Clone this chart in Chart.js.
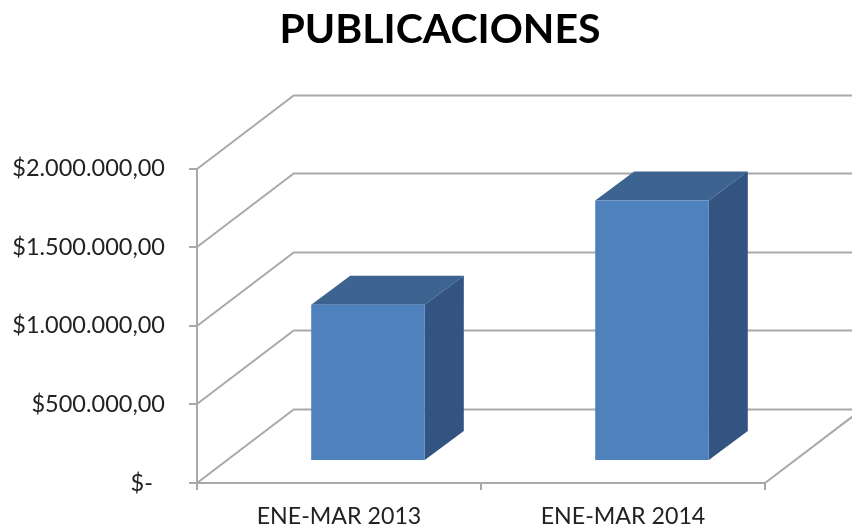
<!DOCTYPE html>
<html>
<head>
<meta charset="utf-8">
<style>html,body{margin:0;padding:0;background:#fff}#w{width:852px;height:528px}</style>
<script src="https://cdn.jsdelivr.net/npm/chart.js@4"></script>
</head>
<body>
<div id="w"><canvas id="c"></canvas></div>
<script>
const chartTitle = 'PUBLICACIONES';
const categories = ['ENE-MAR 2013', 'ENE-MAR 2014'];
const seriesValues = [995000, 1658000];
const yTickValues = [0, 500000, 1000000, 1500000, 2000000];
const yTickLabels = ['$-\u00a0\u00a0', '$500.000,00', '$1.000.000,00', '$1.500.000,00', '$2.000.000,00'];

const GRID = '#a9a9a9', FRONT = '#4f81bd', TOP = '#3d6491', SIDE = '#335380', TEXT = '#222222';
const WALL = {dx: 96.7, dy: -73.5};
const BAR_OFFSET = {dx: 29, dy: -22};
const BAR_DEPTH = {dx: 39, dy: -29};

const threeD = {
  id: 'threeD',
  afterLayout(chart) {
    chart.titleBlock.left = 28;
  },
  beforeDatasetsDraw(chart) {
    const {ctx, chartArea: a, scales: {y}} = chart;
    ctx.save();
    ctx.strokeStyle = GRID;
    ctx.lineWidth = 2;
    yTickValues.forEach(v => {
      const p = Math.round(y.getPixelForValue(v));
      ctx.beginPath();
      ctx.moveTo(a.left, p);
      ctx.lineTo(a.left + WALL.dx, p + WALL.dy);
      ctx.lineTo(chart.width + 2, p + WALL.dy);
      ctx.stroke();
    });
    const b = Math.round(y.getPixelForValue(0));
    ctx.beginPath();
    ctx.moveTo(a.right, b);
    ctx.lineTo(a.right + WALL.dx, b + WALL.dy);
    ctx.stroke();
    ctx.restore();

    ctx.save();
    ctx.translate(BAR_OFFSET.dx, BAR_OFFSET.dy);
    chart.getDatasetMeta(0).data.forEach(el => {
      const p = el.getProps(['x', 'y', 'base', 'width'], true);
      const l = p.x - p.width / 2, r = p.x + p.width / 2;
      ctx.fillStyle = TOP;
      ctx.beginPath();
      ctx.moveTo(l, p.y);
      ctx.lineTo(l + BAR_DEPTH.dx, p.y + BAR_DEPTH.dy);
      ctx.lineTo(r + BAR_DEPTH.dx, p.y + BAR_DEPTH.dy);
      ctx.lineTo(r, p.y);
      ctx.closePath();
      ctx.fill();
      ctx.fillStyle = SIDE;
      ctx.beginPath();
      ctx.moveTo(r, p.y);
      ctx.lineTo(r + BAR_DEPTH.dx, p.y + BAR_DEPTH.dy);
      ctx.lineTo(r + BAR_DEPTH.dx, p.base + BAR_DEPTH.dy);
      ctx.lineTo(r, p.base);
      ctx.closePath();
      ctx.fill();
    });
  },
  afterDatasetsDraw(chart) {
    chart.ctx.restore();
  }
};

new Chart(document.getElementById('c'), {
  type: 'bar',
  data: {
    labels: categories,
    datasets: [{
      data: seriesValues,
      backgroundColor: FRONT,
      barPercentage: 0.4,
      categoryPercentage: 1,
      clip: false,
      yAxisID: 'y'
    }]
  },
  plugins: [threeD],
  options: {
    responsive: true,
    maintainAspectRatio: false,
    animation: false,
    layout: {padding: 0},
    plugins: {
      legend: {display: false},
      tooltip: {enabled: false},
      title: {
        display: true,
        text: chartTitle,
        color: '#000000',
        font: {family: 'Lato', size: 41, weight: 'bold', lineHeight: 1.2},
        padding: {top: 5, bottom: 114.5}
      }
    },
    scales: {
      x: {
        afterFit(s) { s.height = 45; },
        grid: {drawOnChartArea: false, drawTicks: true, tickLength: 7, color: GRID, lineWidth: 2},
        border: {color: GRID, width: 2},
        ticks: {color: TEXT, font: {family: 'Lato', size: 23.2}, padding: 13, maxRotation: 0}
      },
      y: {
        min: 0,
        max: 2000000,
        afterFit(s) { s.width = 197; },
        afterBuildTicks(s) { s.ticks = yTickValues.map(v => ({value: v})); },
        grid: {drawOnChartArea: false, drawTicks: true, tickLength: 8, color: GRID, lineWidth: 2},
        border: {color: GRID, width: 2},
        ticks: {
          color: TEXT,
          font: {family: 'Lato', size: 23.5},
          padding: 24,
          callback: v => yTickLabels[yTickValues.indexOf(v)]
        }
      },
      rightGap: {
        type: 'linear',
        position: 'right',
        afterFit(s) { s.width = 87; },
        grid: {display: false},
        border: {display: false},
        ticks: {display: false}
      }
    }
  }
});
</script>
</body>
</html>
